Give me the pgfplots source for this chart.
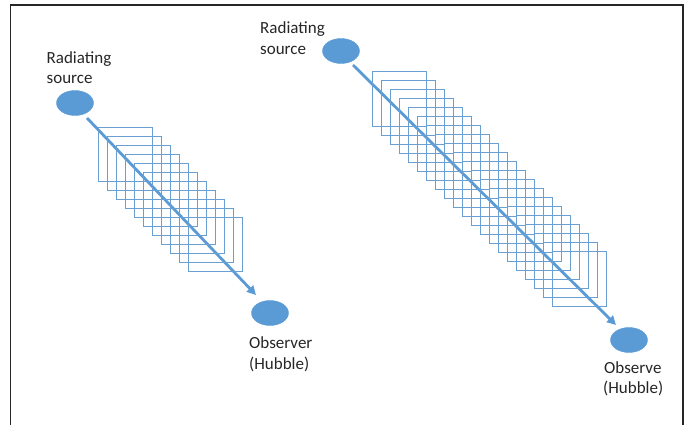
\documentclass[border=0pt]{standalone}
\usepackage{fontspec}
\setmainfont{Carlito}
\usepackage{pgfplots}
\pgfplotsset{compat=1.18}
\usetikzlibrary{arrows.meta}
\definecolor{obj}{HTML}{5B9BD5}
\definecolor{sq}{HTML}{6A9FD2}
\definecolor{txt}{HTML}{262626}
\begin{document}
\begin{tikzpicture}[lbl/.style={txt, anchor=base west, inner sep=0pt, font=\fontsize{17}{20}\selectfont}]
\begin{axis}[
  scale only axis, width=689pt, height=425pt,
  xmin=0, xmax=689, ymin=0, ymax=425, y dir=reverse,
  hide axis, clip=false,
]
% page corners (keep the bounding box)
\addplot[draw=none] coordinates {(0,0) (689,425)};
% frame, open at the bottom
\addplot[black!85, line width=1.6pt] coordinates {(10.5,425) (10.5,5) (683,5) (683,425)};

% wave-front squares, left diagram (centres)
\addplot[only marks, mark=square, mark size=27.3pt,
  mark options={draw=sq, line width=0.9pt}] coordinates {
  (125.5,154.5) (134.5,163.5) (143.5,172.5) (152.5,181.5) (161.5,190.5)
  (170.5,199.5) (179.5,208.5) (188.5,217.5) (197.5,226.5) (206.5,235.5)
  (215.5,244.5)
};
% wave-front squares, right diagram (centres)
\addplot[only marks, mark=square, mark size=27.3pt,
  mark options={draw=sq, line width=0.9pt}] coordinates {
  (399.5,99) (408.5,108) (417.5,117) (426.5,126) (435.5,135)
  (444.5,144) (453.5,153) (462.5,162) (471.5,171) (480.5,180)
  (489.5,189) (498.5,198) (507.5,207) (516.5,216) (525.5,225)
  (534.5,234) (543.5,243) (552.5,252) (561.5,261) (570.5,270)
  (579.5,279)
};

% rays
\addplot[obj, line width=2.8pt, -{Triangle[length=9pt,width=9pt]}]
  coordinates {(87,118) (256,295)};
\addplot[obj, line width=2.8pt, -{Triangle[length=9pt,width=9pt]}]
  coordinates {(353,65) (616,325)};

% sources and observers
\addplot[only marks, mark=*, mark size=12.5pt,
  mark options={xscale=1.48, fill=obj, draw=obj}] coordinates {
  (75,103) (270,313) (341,51) (629,340)
};

% labels
\node[lbl] at (axis cs:46.5,63) {Radiating};
\node[lbl] at (axis cs:46.5,83) {source};
\node[lbl] at (axis cs:260,33) {Radiating};
\node[lbl] at (axis cs:260,54) {source};
\node[lbl] at (axis cs:249,348) {Observer};
\node[lbl] at (axis cs:249,369) {(Hubble)};
\node[lbl] at (axis cs:604,373) {Observe};
\node[lbl] at (axis cs:603,393) {(Hubble)};
\end{axis}
\end{tikzpicture}
\end{document}
